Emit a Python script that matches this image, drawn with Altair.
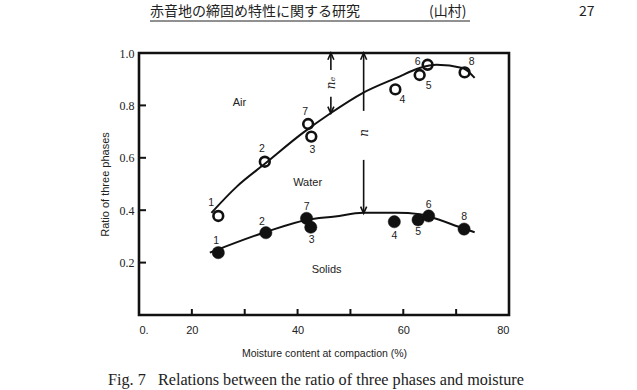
import altair as alt
import pandas as pd

# Specimen numbers in plotting order
specimen = ["1", "2", "7", "3", "4", "5", "6", "8"]

# Moisture content at compaction (%) and ratio of solids + water (open circles)
void_w = [25.0, 33.8, 42.0, 42.6, 58.5, 63.1, 64.6, 71.6]
void_r = [0.378, 0.585, 0.729, 0.681, 0.861, 0.916, 0.955, 0.926]

# Moisture content at compaction (%) and ratio of solids (filled circles)
solid_w = [25.0, 34.0, 41.7, 42.5, 58.3, 62.8, 64.8, 71.5]
solid_r = [0.238, 0.314, 0.369, 0.335, 0.356, 0.363, 0.378, 0.328]

# Smoothed boundary curves
upper_w = [23.7, 28.5, 33.8, 41.0, 46.3, 52.3, 58.7, 63.1, 66.3, 71.2, 73.5]
upper_r = [0.390, 0.490, 0.577, 0.695, 0.771, 0.847, 0.905, 0.943, 0.955, 0.943, 0.905]
lower_w = [23.4, 34.0, 41.7, 47.1, 52.4, 58.7, 63.1, 65.0, 71.3, 73.5]
lower_r = [0.238, 0.317, 0.363, 0.376, 0.390, 0.390, 0.385, 0.375, 0.331, 0.316]

# Phase names
region_names = ["Air", "Water", "Solids"]
region_w = [29.0, 41.9, 45.5]
region_r = [0.808, 0.505, 0.172]

# Dimension arrows: n_e (air voids) and n (porosity)
arrow_w = [46.3, 52.5]
arrow_top = [1.0, 1.0]
arrow_gap_hi = [0.935, 0.779]
arrow_gap_lo = [0.833, 0.592]
arrow_tip = [0.770, 0.388]
arrow_text = ["nₑ", "n"]
arrow_text_r = [0.885, 0.695]

# Axis ticks
x_tick_values = [20, 30, 40, 50, 60, 70]
x_label_values = [10, 20, 40, 60, 80]
y_tick_values = [0.2, 0.4, 0.6, 0.8]
y_label_values = [0.2, 0.4, 0.6, 0.8, 1.0]

# Specimen-number offsets from their circles, in pixels
void_dx = [-7, -3, -3, 1, 7, 9, -10, 7]
void_dy = [-13, -13, -12, 13, 11, 11, -3, -10]
solid_dx = [-2, -4, 0, 1, 0, 0, 0, 0]
solid_dy = [-12, -11, -11, 13, 14, 12, -11, -12]

W, H = 370, 262
X_DOMAIN = [10, 80]
PX_PER_X = W / (X_DOMAIN[1] - X_DOMAIN[0])
PX_PER_Y = H / 1.0
INK = "#111111"
TEXT = "#222222"

x_title = "Moisture content at compaction (%)"
y_title = "Ratio of three phases"


def X(field):
    return alt.X(
        f"{field}:Q",
        scale=alt.Scale(domain=X_DOMAIN, nice=False, zero=False),
        title=x_title,
        axis=alt.Axis(
            values=x_label_values,
            labelExpr="datum.value == 10 ? '0.' : datum.label",
            ticks=False, domain=False, grid=False,
            labelPadding=9, labelFont="Liberation Sans", labelFontSize=11,
            labelColor=TEXT, titleFont="Liberation Sans", titleFontSize=10.5,
            titleFontWeight="normal", titleColor=TEXT, titlePadding=13,
        ),
    )


def Y(field):
    return alt.Y(
        f"{field}:Q",
        scale=alt.Scale(domain=[0, 1], nice=False),
        title=y_title,
        axis=alt.Axis(
            values=y_label_values, format=".1f",
            ticks=False, domain=False, grid=False,
            labelPadding=5, labelFont="Liberation Serif", labelFontSize=12,
            labelColor=TEXT, titleFont="Liberation Sans", titleFontSize=11,
            titleFontWeight="normal", titleColor=TEXT, titlePadding=9,
        ),
    )


void_df = pd.DataFrame({"w": void_w, "r": void_r, "no": specimen})
void_df["lw"] = [w + dx / PX_PER_X for w, dx in zip(void_w, void_dx)]
void_df["lr"] = [r - dy / PX_PER_Y for r, dy in zip(void_r, void_dy)]
solid_df = pd.DataFrame({"w": solid_w, "r": solid_r, "no": specimen})
solid_df["lw"] = [w + dx / PX_PER_X for w, dx in zip(solid_w, solid_dx)]
solid_df["lr"] = [r - dy / PX_PER_Y for r, dy in zip(solid_r, solid_dy)]

upper_df = pd.DataFrame({"w": upper_w, "r": upper_r, "order": range(len(upper_w))})
lower_df = pd.DataFrame({"w": lower_w, "r": lower_r, "order": range(len(lower_w))})
region_df = pd.DataFrame({"w": region_w, "r": region_r, "name": region_names})

seg_df = pd.DataFrame({
    "w": arrow_w * 2,
    "r": arrow_top + arrow_gap_lo,
    "r2": arrow_gap_hi + arrow_tip,
})
head_up_df = pd.DataFrame({"w": arrow_w, "r": arrow_top})
head_down_df = pd.DataFrame({"w": arrow_w, "r": arrow_tip})
arrow_text_df = pd.DataFrame({"w": arrow_w, "r": arrow_text_r, "t": arrow_text})

x_tick_df = pd.DataFrame({"w": x_tick_values})
y_tick_df = pd.DataFrame({"r": y_tick_values})

curve_upper = alt.Chart(upper_df).mark_line(
    color=INK, strokeWidth=2, interpolate="monotone"
).encode(x=X("w"), y=Y("r"), order="order:Q")
curve_lower = alt.Chart(lower_df).mark_line(
    color=INK, strokeWidth=2, interpolate="monotone"
).encode(x=X("w"), y=Y("r"), order="order:Q")

open_pts = alt.Chart(void_df).mark_point(
    shape="circle", filled=False, size=95, stroke=INK, strokeWidth=2.6, opacity=1
).encode(x=X("w"), y=Y("r"))
filled_pts = alt.Chart(solid_df).mark_point(
    shape="circle", filled=True, size=150, fill=INK, stroke=INK, strokeWidth=0.5, opacity=1
).encode(x=X("w"), y=Y("r"))

num_style = dict(font="Liberation Sans", fontSize=10.5, color=TEXT, align="center", baseline="middle")
open_nums = alt.Chart(void_df).mark_text(**num_style).encode(x=X("lw"), y=Y("lr"), text="no:N")
solid_nums = alt.Chart(solid_df).mark_text(**num_style).encode(x=X("lw"), y=Y("lr"), text="no:N")

regions = alt.Chart(region_df).mark_text(
    font="Liberation Sans", fontSize=11, color=TEXT, align="center", baseline="middle"
).encode(x=X("w"), y=Y("r"), text="name:N")

segments = alt.Chart(seg_df).mark_rule(color=INK, strokeWidth=1.6).encode(
    x=X("w"), y=Y("r"), y2="r2:Q"
)
heads_up = alt.Chart(head_up_df).mark_point(
    shape="M -0.45 1 L 0 0 L 0.45 1", filled=False, size=180, stroke=INK, strokeWidth=1.6, opacity=1
).encode(x=X("w"), y=Y("r"))
heads_down = alt.Chart(head_down_df).mark_point(
    shape="M -0.45 -1 L 0 0 L 0.45 -1", filled=False, size=180, stroke=INK, strokeWidth=1.6, opacity=1
).encode(x=X("w"), y=Y("r"))
arrow_labels = alt.Chart(arrow_text_df).mark_text(
    font="DejaVu Serif", fontStyle="italic", fontSize=12, color=TEXT,
    angle=270, align="center", baseline="middle"
).encode(x=X("w"), y=Y("r"), text="t:N")

x_ticks = alt.Chart(x_tick_df).mark_rule(color=INK, strokeWidth=2).encode(
    x=X("w"), y=alt.value(H), y2=alt.value(H - 6)
)
y_ticks = alt.Chart(y_tick_df).mark_rule(color=INK, strokeWidth=2).encode(
    y=Y("r"), x=alt.value(0), x2=alt.value(7)
)

# Running head, page number and figure caption
page_df = pd.DataFrame({
    "t": ["赤音地の締固め特性に関する研究", "(山村)", "27"],
    "px": [11, 290, 440],
    "py": [-41, -41, -41],
})
page_text = alt.Chart(page_df).mark_text(
    font="Noto Sans CJK JP", fontSize=14, color=TEXT, align="left", baseline="middle"
).encode(x=alt.X("px:Q", scale=None), y=alt.Y("py:Q", scale=None), text="t:N")
head_rule = alt.Chart(pd.DataFrame({"a": [0]})).mark_rule(color=TEXT, strokeWidth=1).encode(
    x=alt.value(11), x2=alt.value(331), y=alt.value(-32)
)
caption_text = "Fig.\u00a07\u00a0\u00a0\u00a0Relations between the ratio of three phases and moisture"
caption = alt.Chart(pd.DataFrame({"t": [caption_text]})).mark_text(
    font="Liberation Serif", fontSize=16.2, color=TEXT, align="left", baseline="middle"
).encode(x=alt.value(-31), y=alt.value(327), text="t:N")

chart = alt.layer(
    curve_upper, curve_lower, segments, heads_up, heads_down, arrow_labels,
    open_pts, filled_pts, open_nums, solid_nums, regions, x_ticks, y_ticks,
    page_text, head_rule, caption,
).properties(
    width=W, height=H,
    padding={"left": 139, "top": 53, "right": 128, "bottom": 75},
    autosize=alt.AutoSizeParams(type="none"),
    background="white",
).configure_view(stroke=INK, strokeWidth=2.6)

chart.save("out.html", embed_options={"renderer": "svg", "actions": False})
